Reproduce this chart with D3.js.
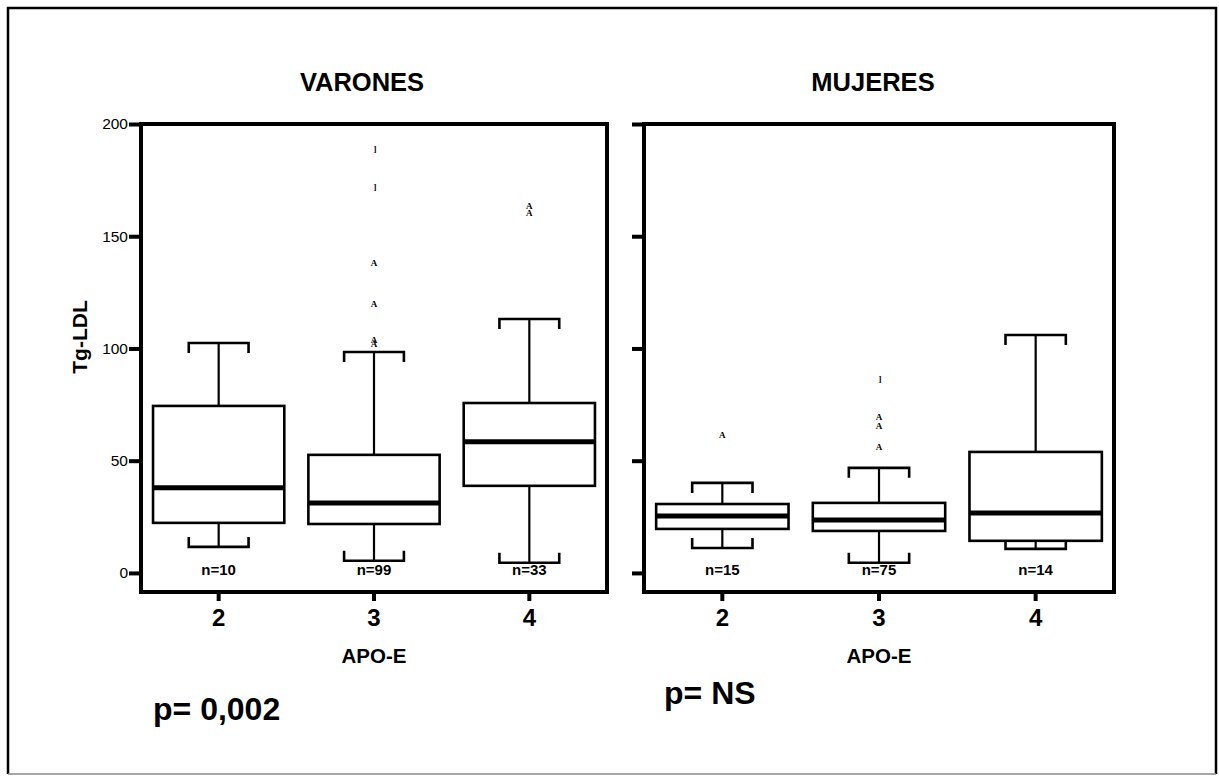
<!DOCTYPE html>
<html>
<head>
<meta charset="utf-8">
<script src="https://cdn.jsdelivr.net/npm/d3@7"></script>
<style>
  body { margin: 0; background: #fff; }
  svg { display: block; }
</style>
</head>
<body>
<svg id="chart" width="1219" height="781"></svg>
<script>
// APO-E genotype groups and the Tg-LDL axis
const apoGroups = ["2", "3", "4"];
const yTicks = [0, 50, 100, 150, 200];
const panelTitles = ["VARONES", "MUJERES"];
const pValues = ["p= 0,002", "p= NS"];

// Varones (men)
const menN = [10, 99, 33];
const menLow = [11.6, 5.4, 4.5];
const menQ1 = [22.3, 21.8, 38.8];
const menMedian = [37.9, 31.2, 58.4];
const menQ3 = [74.4, 52.6, 75.7];
const menHigh = [102.4, 98.4, 113.1];
const menOutliers = [[], [102, 104, 120, 138], [160.5, 163.5]];
const menExtremes = [[], [172, 189], []];

// Mujeres (women)
const womenN = [15, 75, 14];
const womenLow = [11.1, 4.5, 10.7];
const womenQ1 = [19.6, 18.7, 14.3];
const womenMedian = [25.4, 23.6, 26.7];
const womenQ3 = [30.7, 31.2, 53.9];
const womenHigh = [40.1, 46.8, 106];
const womenOutliers = [[61.5], [56.1, 65.5, 69.5], []];
const womenExtremes = [[], [86.4], []];

const svg = d3.select("#chart");
const FONT = "Liberation Sans, Arial, Helvetica, sans-serif";
const MARK_FONT = "Liberation Serif, Times New Roman, serif";

// page border
svg.append("path")
  .attr("d", "M8,774 L8,8 L1216,8 L1216,774")
  .attr("fill", "none").attr("stroke", "#000").attr("stroke-width", 2.5);
svg.append("line")
  .attr("x1", 8).attr("x2", 1216).attr("y1", 774).attr("y2", 774)
  .attr("stroke", "#888").attr("stroke-width", 1.5);

const plotTop = 124, plotBottom = 592;
const y = d3.scaleLinear().domain([-8.5, 200]).range([plotBottom, plotTop]);

const panels = [
  { left: 141, right: 607, title: panelTitles[0], titleX: 362, pText: pValues[0], pX: 153, pY: 720,
    labels: true, n: menN, low: menLow, q1: menQ1, med: menMedian, q3: menQ3, high: menHigh,
    out: menOutliers, ext: menExtremes },
  { left: 644, right: 1114, title: panelTitles[1], titleX: 873, pText: pValues[1], pX: 664, pY: 704,
    labels: false, n: womenN, low: womenLow, q1: womenQ1, med: womenMedian, q3: womenQ3, high: womenHigh,
    out: womenOutliers, ext: womenExtremes }
];

panels.forEach(p => {
  const g = svg.append("g");
  const x = d3.scaleBand().domain(apoGroups).range([p.left, p.right]).padding(0);
  const cx = d => x(d) + x.bandwidth() / 2;
  const boxW = x.bandwidth() * 0.845;
  const capW = x.bandwidth() * 0.385;

  // panel title
  g.append("text").attr("x", p.titleX).attr("y", 91)
    .attr("text-anchor", "middle").attr("font-family", FONT)
    .attr("font-weight", "bold").attr("font-size", 25.5).text(p.title);

  // y axis
  const yAxis = d3.axisLeft(y).tickValues(yTicks).tickSize(12).tickPadding(1);
  if (!p.labels) yAxis.tickFormat("");
  const ya = g.append("g").attr("transform", `translate(${p.left},0)`).call(yAxis);
  ya.select(".domain").remove();
  ya.selectAll("line").attr("stroke", "#000").attr("stroke-width", 4);
  ya.selectAll("text").attr("font-family", FONT).attr("font-size", 15.5).attr("fill", "#000");

  // x axis
  const xAxis = d3.axisBottom(x).tickSize(9).tickPadding(8);
  const xa = g.append("g").attr("transform", `translate(0,${plotBottom})`).call(xAxis);
  xa.select(".domain").remove();
  xa.selectAll("line").attr("stroke", "#000").attr("stroke-width", 4);
  xa.selectAll("text").attr("font-family", FONT).attr("font-size", 24)
    .attr("font-weight", "bold").attr("fill", "#000");

  // panel frame
  g.append("rect").attr("x", p.left).attr("y", plotTop)
    .attr("width", p.right - p.left).attr("height", plotBottom - plotTop)
    .attr("fill", "none").attr("stroke", "#000").attr("stroke-width", 4);

  // x title
  g.append("text").attr("x", (p.left + p.right) / 2).attr("y", 663)
    .attr("text-anchor", "middle").attr("font-family", FONT)
    .attr("font-weight", "bold").attr("font-size", 20.5).text("APO-E");

  // p value
  g.append("text").attr("x", p.pX).attr("y", p.pY)
    .attr("font-family", FONT).attr("font-weight", "bold")
    .attr("font-size", 32).text(p.pText);

  const boxes = g.selectAll(".box").data(apoGroups).join("g").attr("class", "box");

  // whiskers
  boxes.append("line")
    .attr("x1", cx).attr("x2", cx)
    .attr("y1", (d, i) => y(p.q3[i])).attr("y2", (d, i) => y(p.high[i]))
    .attr("stroke", "#000").attr("stroke-width", 2.2);
  boxes.append("line")
    .attr("x1", cx).attr("x2", cx)
    .attr("y1", (d, i) => y(p.q1[i])).attr("y2", (d, i) => y(p.low[i]))
    .attr("stroke", "#000").attr("stroke-width", 2.2);

  // whisker caps (bracket shape pointing towards the box)
  boxes.append("path")
    .attr("d", (d, i) => {
      const yy = y(p.high[i]), h = Math.min(10, y(p.q3[i]) - yy);
      const a = cx(d) - capW / 2, b = cx(d) + capW / 2;
      return `M${a},${yy + h} L${a},${yy} L${b},${yy} L${b},${yy + h}`;
    })
    .attr("fill", "none").attr("stroke", "#000").attr("stroke-width", 2.6);
  boxes.append("path")
    .attr("d", (d, i) => {
      const yy = y(p.low[i]), h = Math.min(10, yy - y(p.q1[i]));
      const a = cx(d) - capW / 2, b = cx(d) + capW / 2;
      return `M${a},${yy - h} L${a},${yy} L${b},${yy} L${b},${yy - h}`;
    })
    .attr("fill", "none").attr("stroke", "#000").attr("stroke-width", 2.6);

  // boxes
  boxes.append("rect")
    .attr("x", d => cx(d) - boxW / 2).attr("width", boxW)
    .attr("y", (d, i) => y(p.q3[i]))
    .attr("height", (d, i) => y(p.q1[i]) - y(p.q3[i]))
    .attr("fill", "#fff").attr("stroke", "#000").attr("stroke-width", 2.6);

  // medians
  boxes.append("line")
    .attr("x1", d => cx(d) - boxW / 2).attr("x2", d => cx(d) + boxW / 2)
    .attr("y1", (d, i) => y(p.med[i])).attr("y2", (d, i) => y(p.med[i]))
    .attr("stroke", "#000").attr("stroke-width", 5);

  // outliers ("A") and extremes ("]")
  apoGroups.forEach((d, i) => {
    g.selectAll(null).data(p.out[i]).join("text")
      .attr("x", cx(d)).attr("y", v => y(v))
      .attr("dy", "0.35em").attr("text-anchor", "middle")
      .attr("font-family", MARK_FONT)
      .attr("font-weight", "bold").attr("font-size", 9).text("A");
    g.selectAll(null).data(p.ext[i]).join("text")
      .attr("x", cx(d) + 1).attr("y", v => y(v))
      .attr("dy", "0.35em").attr("text-anchor", "middle")
      .attr("font-family", MARK_FONT)
      .attr("font-weight", "bold").attr("font-size", 9).text("]");
  });

  // group sizes
  boxes.append("text")
    .attr("x", cx).attr("y", 575)
    .attr("text-anchor", "middle").attr("font-family", FONT)
    .attr("font-weight", "bold").attr("font-size", 15)
    .text((d, i) => "n=" + p.n[i]);
});

// y axis title
svg.append("text")
  .attr("transform", "translate(87,337) rotate(-90)")
  .attr("text-anchor", "middle").attr("font-family", FONT)
  .attr("font-weight", "bold").attr("font-size", 21).text("Tg-LDL");
</script>
</body>
</html>
